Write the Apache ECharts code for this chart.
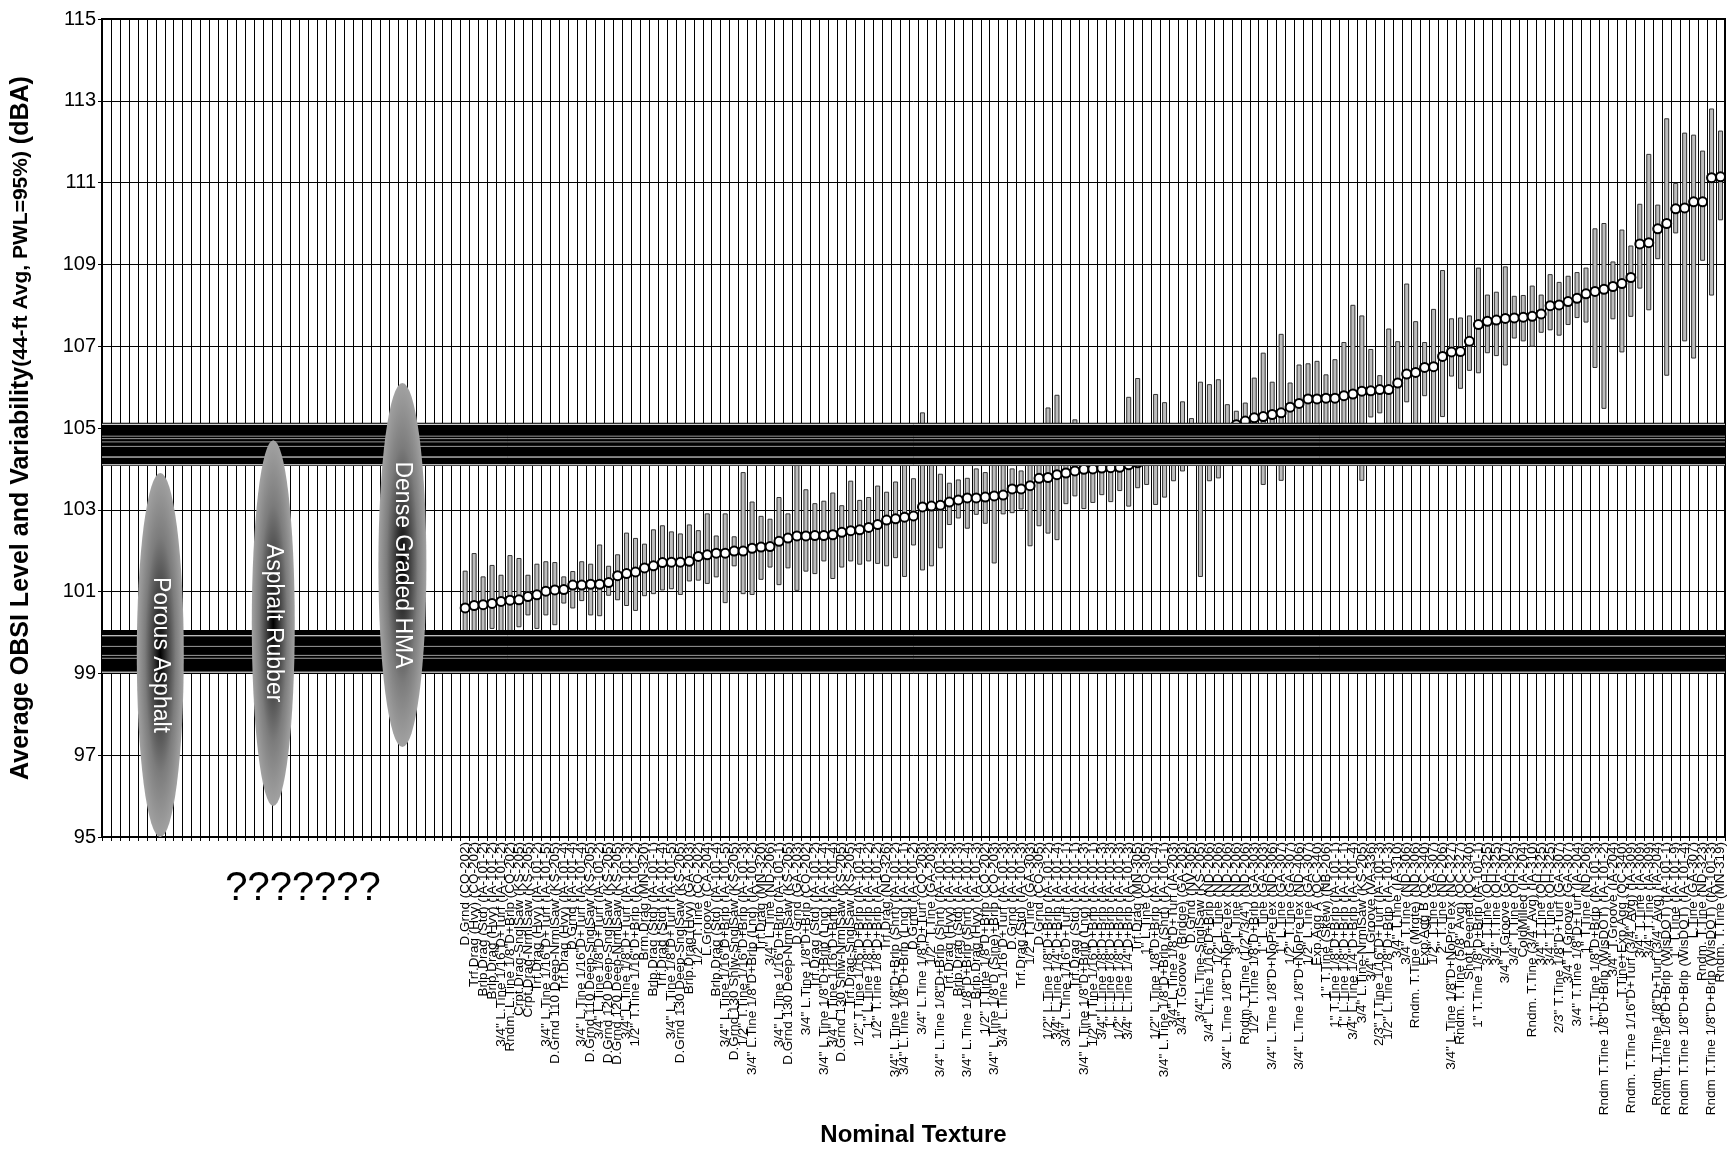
<!DOCTYPE html>
<html>
<head>
<meta charset="utf-8">
<title>Average OBSI Level and Variability</title>
<script src="https://cdn.jsdelivr.net/npm/echarts@6/dist/echarts.min.js"></script>
<style>
html, body { margin: 0; padding: 0; background: #fff; }
#main { width: 1729px; height: 1149px; }
</style>
</head>
<body>
<div id="main"></div>
<script>
var FONT = 'Liberation Sans, Arial, sans-serif';

// first categories of the axis are left blank (the "???????" group)
var emptyCount = 40;

// nominal texture of every measured section, in plotted order
var textures = [
    'D.Grnd (CO-202)', 'Trf.Drag (Hvy) (CO-202)', 'Brlp.Drag (Std) (IA-101-2)', 'Brlp.Drag (Hvy) (IA-101-2)',
    '3/4" L.Tine 1/16"D+Turf (IA-101-2)', 'Rndm. L.Tine 1/8"D+Brlp (CO-202)', 'Crpt.Drag-SnglSaw (KS-205)',
    'Crpt.Drag-NrmlSaw (KS-205)', 'Trf.Drag (Hvy) (IA-101-2)', '3/4" L.Tine 1/16"D+Turf (IA-101-5)',
    'D.Grnd 110 Deep-NrmlSaw (KS-205)', 'Trf.Drag (Hvy) (IA-101-4)', 'D.Grnd (IA-101-4)',
    '3/4" L.Tine 1/16"D+Turf (IA-101-4)', 'D.Grnd 110 Deep-SnglSaw (KS-205)', '3/4" L.Tine 1/8"D+Turf (IA-101-2)',
    'D.Grnd 120 Deep-SnglSaw (KS-205)', 'D.Grnd 120 Deep-NrmlSaw (KS-205)', '3/4" L.Tine 1/8"D+Turf (IA-101-3)',
    '1/2" T.Tine 1/16"D+Brlp (IA-101-2)', 'Brm.Drag (MN-320)', 'Brlp.Drag (Std) (IA-101-1)',
    'Trf.Drag (Std) (IA-101-4)', '3/4" L.Tine 1/8"D+Turf (IA-101-5)', 'D.Grnd 130 Deep-SnglSaw (KS-205)',
    'Brlp.Drag (Hvy) (GA-203)', '1/2" T.Tine (CO-202)', 'L.Groove (CA-204)', 'Brlp.Drag (Std) (IA-101-4)',
    '3/4" L.Tine 1/16"D+Brlp (IA-101-5)', 'D.Grnd 130 Shlw-SnglSaw (KS-205)', '1/2" T.Tine 1/16"D+Brlp (IA-101-3)',
    '3/4" L.Tine 1/8"D+Brlp (Lng) (IA-101-2)', 'Trf.Drag (MN-320)', '3/4" L.Tine (ND-206)',

    '3/4" L.Tine 1/16"D+Brlp (IA-101-1)', 'D.Grnd 130 Deep-NrmlSaw (KS-205)', 'D.Grnd (GA-203)',
    '3/4" L.Tine 1/8"D+Brlp (CO-202)', 'Trf.Drag (Std) (IA-101-2)', '3/4" L.Tine 1/8"D+Brlp (Lng) (IA-101-4)',
    '3/4" L.Tine 1/16"D+Brlp (IA-101-4)', 'D.Grnd 130 Shlw-NrmlSaw (KS-205)', 'Trf.Drag-SnglSaw (KS-205)',
    '1/2" T.Tine 1/16"D+Brlp (IA-101-4)', '1" L.Tine 1/8"D+Brlp (IA-101-2)', '1/2" T.Tine 1/8"D+Brlp (IA-101-2)',
    'Trf.Drag (ND-326)', '3/4" L.Tine 1/8"D+Brlp (Shrt) (IA-101-2)', '3/4" L.Tine 1/8"D+Brlp (Lng) (IA-101-1)',
    'D.Grnd (IA-101-2)', '3/4" L.Tine 1/8"D+Turf (CO-203)', '1/2" T.Tine (GA-203)',
    '3/4" L.Tine 1/8"D+Brlp (Shrt) (IA-101-3)', 'Trf.Drag (Hvy) (IA-101-3)', 'Brlp.Drag (Std) (IA-101-3)',
    '3/4" L.Tine 1/8"D+Brlp (Shrt) (IA-101-4)', 'Brlp.Drag (Hvy) (IA-101-3)', '1/2" T.Tine 1/8"D+Brlp (CO-202)',
    '3/4" L.Tine 1/8"D (Sine)+Brlp (CO-203)', '3/4" L.Tine 1/16"D+Turf (IA-101-3)', 'D.Grnd (IA-101-3)',
    'Trf.Drag (Std) (IA-101-3)', '1/2" T.Tine (GA-303)', 'D.Grnd (CO-305)', '1/2" L.Tine 1/8"D+Brlp (IA-101-2)',
    '3/4" L.Tine 1/4"D+Brlp (IA-101-4)', '3/4" L.Tine 1/16"D+Turf (IA-101-1)', 'Trf.Drag (Std) (IA-101-1)',
    '3/4" L.Tine 1/8"D+Brlp (Lng) (IA-101-3)',

    '1/2" T.Tine 1/16"D+Brlp (IA-101-1)', '3/4" L.Tine 1/8"D+Brlp (IA-101-3)', '1" L.Tine 1/8"D+Brlp (IA-101-3)',
    '1/2" L.Tine 1/8"D+Brlp (IA-101-3)', '3/4" L.Tine 1/4"D+Brlp (IA-101-3)', 'Trf.Drag (MN-305)',
    '1" L.Tine (CO-305)', '1/2" L.Tine 1/8"D+Brlp (IA-101-4)', '3/4" L.Tine 1/8"D+Brlp (Shrt) (IA-101-1)',
    '3/4" L.Tine 1/8"D+Turf (IA-203)', '3/4" T.Groove (Bridge) (GA-203)', 'D.Grnd (NV-305)',
    '3/4" L.Tine-SnglSaw (KS-205)', '3/4" L.Tine 1/16"D+Brlp (ND-206)', '1/2" L.Tine (ND-206)',
    '3/4" L.Tine 1/8"D+NoPreTex (ND-206)', '3" L.Tine (ND-206)', 'Rndm. T.Tine (1/2"/3/4") (ND-206)',
    '1/2" T.Tine 1/8"D+Brlp (GA-303)', '1" L.Tine (GA-203)', '3/4" L.Tine 1/8"D+NoPreTex (ND-306)',
    '1" L.Tine (GA-307)', '1/2" T.Tine (GA-307)', '3/4" L.Tine 1/8"D+NoPreTex (ND-406)', '1/2" L.Tine (GA-307)',
    'Exp.Agg A (QC-340)', '1" T.Tine (Skew) (NB-206)', '1" T.Tine 1/8"D+Brlp (IA-101-1)',
    '1" L.Tine 1/8"D+Brlp (IA-101-1)', '3/4" L.Tine 1/4"D+Brlp (IA-101-4)', '3/4" L.Tine-NrmlSaw (KS-205)',
    '3/4" L.Groove (VA-336)', '2/3" T.Tine 1/16"D+Turf (IA-101-3)', '1/2" L.Tine 1/8"D+Brlp (IA-101-3)',
    '3/4" T.Tine (IA-310)',

    '3/4" T.Tine (ND-306)', 'Rndm. T.Tine (Mrgte) (ND-306)', 'Exp.Agg B (QC-340)', '1/2" T.Tine (GA-307)',
    '2" T.Tine (ND-206)', '3/4" L.Tine 1/8"D+NoPreTex (NC-327)', 'Rndm. T.Tine (5/8" Avg) (OC-327)',
    'Shot Peened (QC-340)', '1" T.Tine 1/8"D+Brlp (IA-101-1)', '3/4" T.Tine (OH-325)', '3/4" T.Tine (OH-325)',
    '3/4" T.Groove (GA-307)', '3/4" T.Tine (OH-325)', 'ColdMilled (IA-204)', 'Rndm. T.Tine (3/4" Avg) (IA-310)',
    '3/4" T.Tine (OH-325)', '3/4" T.Tine (OH-325)', '2/3" T.Tine 1/8"D+Turf (GA-307)', '3/4" T.Groove (GA-307)',
    '3/4" T.Tine 1/8"D+Turf (IA-204)', '1" T.Tine (ND-206)', '1" T.Tine 1/8"D+Brlp (IA-101-3)',
    'Rndm T.Tine 1/8"D+Brlp (WisDOT) (IA-101-2)', '3/4" T.Groove (IA-204)', 'T.Tine+Exp.Agg (QC-340)',
    'Rndm. T.Tine 1/16"D+Turf (3/4" Avg) (IA-309)', '3/4" T.Tine (IA-309)', '3/4" T.Tine (IA-309)',
    'Rndm. T.Tine 1/8"D+Turf (3/4" Avg) (IA-204)', 'Rndm T.Tine 1/8"D+Brlp (WisDOT) (IA-101-1)',
    '1" T.Tine (IA-101-9)', 'Rndm T.Tine 1/8"D+Brlp (WisDOT) (IA-101-4)', 'L.Tine (GA-307)',
    'Rndm. T.Tine (ND-323)', 'Rndm T.Tine 1/8"D+Brlp (WisDOT) (IA-101-3)', 'Rndm. T.Tine (MN-319)'
];

// average OBSI level (dBA)
var means = [
    100.60, 100.66, 100.68, 100.71, 100.76, 100.79, 100.80, 100.88, 100.92, 101.01,
    101.04, 101.05, 101.16, 101.16, 101.18, 101.18, 101.22, 101.39, 101.44, 101.48,
    101.58, 101.63, 101.71, 101.72, 101.72, 101.74, 101.86, 101.90, 101.94, 101.94,
    101.99, 101.99, 102.06, 102.09, 102.10, 102.23, 102.31, 102.36, 102.36, 102.37,
    102.37, 102.39, 102.45, 102.49, 102.51, 102.57, 102.64, 102.75, 102.78, 102.82,
    102.85, 103.07, 103.09, 103.11, 103.19, 103.24, 103.29, 103.29, 103.31, 103.34,
    103.36, 103.51, 103.51, 103.59, 103.77, 103.79, 103.86, 103.90, 103.95, 103.99,
    104.00, 104.02, 104.03, 104.04, 104.10, 104.15, 104.22, 104.30, 104.38, 104.45,
    104.52, 104.60, 104.68, 104.78, 104.88, 104.98, 105.08, 105.17, 105.25, 105.28,
    105.33, 105.37, 105.51, 105.60, 105.71, 105.71, 105.73, 105.73, 105.79, 105.83,
    105.90, 105.91, 105.94, 105.94, 106.10, 106.32, 106.36, 106.48, 106.50, 106.75,
    106.86, 106.87, 107.12, 107.53, 107.61, 107.64, 107.68, 107.69, 107.71, 107.73,
    107.79, 107.99, 108.01, 108.09, 108.17, 108.28, 108.34, 108.39, 108.46, 108.53,
    108.68, 109.50, 109.53, 109.87, 110.00, 110.36, 110.38, 110.53, 110.53, 111.12, 111.14
];

// variability range, low end (dBA)
var lows = [
    99.70, 99.40, 99.90, 100.10, 99.80, 99.60, 100.14, 100.43, 100.10, 100.43,
    100.19, 100.72, 100.60, 100.78, 100.43, 100.41, 100.91, 100.80, 100.66, 100.54,
    100.90, 100.95, 101.04, 101.07, 100.93, 101.26, 101.28, 101.20, 101.36, 100.73,
    101.63, 100.95, 100.93, 101.30, 101.60, 101.17, 101.58, 101.03, 101.50, 101.44,
    101.75, 101.32, 101.60, 101.75, 101.67, 101.75, 101.69, 101.63, 101.83, 101.37,
    102.14, 101.53, 101.63, 102.07, 102.64, 102.80, 102.55, 102.89, 102.67, 101.70,
    102.90, 102.93, 103.02, 102.12, 102.61, 102.43, 102.27, 103.15, 103.34, 103.03,
    103.18, 103.37, 103.20, 103.47, 103.09, 103.54, 103.62, 103.13, 103.31, 103.71,
    103.95, 104.30, 101.37, 103.71, 103.78, 104.40, 104.50, 104.60, 104.60, 103.62,
    104.70, 103.72, 104.80, 104.90, 104.90, 104.80, 105.00, 104.90, 104.70, 104.50,
    103.72, 105.27, 105.37, 104.80, 104.90, 105.64, 105.00, 105.79, 105.00, 105.28,
    106.27, 105.97, 106.41, 106.35, 106.84, 106.77, 106.54, 107.20, 107.13, 107.00,
    107.34, 107.40, 107.27, 107.53, 107.70, 107.59, 106.48, 105.48, 107.67, 106.86,
    107.73, 108.42, 107.89, 109.14, 106.29, 109.77, 107.13, 106.71, 109.10, 108.25, 110.09
];

// variability range, high end (dBA)
var highs = [
    101.50, 101.93, 101.36, 101.64, 101.40, 101.88, 101.81, 101.40, 101.67, 101.73,
    101.71, 101.36, 101.49, 101.73, 101.67, 102.14, 101.62, 101.90, 102.43, 102.30,
    102.16, 102.51, 102.61, 102.46, 102.41, 102.63, 102.49, 102.90, 102.36, 102.90,
    102.34, 103.91, 103.19, 102.84, 102.77, 103.30, 102.90, 104.40, 103.49, 103.15,
    103.21, 103.41, 103.10, 103.70, 103.23, 103.30, 103.58, 103.43, 103.68, 104.50,
    103.76, 105.37, 104.60, 103.87, 103.65, 103.73, 103.77, 104.00, 103.91, 104.40,
    104.30, 104.00, 103.95, 104.50, 104.60, 105.49, 105.80, 104.70, 105.20, 104.60,
    104.80, 104.60, 104.90, 104.70, 105.75, 106.21, 104.90, 105.82, 105.62, 104.90,
    105.64, 105.23, 106.12, 106.06, 106.18, 105.57, 105.41, 105.61, 106.22, 106.83,
    106.12, 107.29, 106.10, 106.54, 106.57, 106.63, 106.30, 106.67, 107.09, 108.00,
    107.74, 106.92, 106.28, 107.42, 107.11, 108.52, 107.60, 107.09, 107.90, 108.85,
    107.67, 107.69, 107.74, 108.91, 108.25, 108.32, 108.94, 108.22, 108.24, 108.47,
    108.25, 108.75, 108.56, 108.71, 108.80, 108.91, 109.87, 110.00, 109.06, 109.84,
    109.45, 110.47, 111.69, 110.45, 112.56, 110.98, 112.21, 112.16, 111.77, 112.80, 112.26
];

// pavement groups marked on the left part of the axis
var groupNames = ['Porous Asphalt', 'Asphalt Rubber', 'Dense Graded HMA'];
var groupCategory = [6, 18.6, 33];
var groupLow = [95.0, 95.76, 97.2];
var groupHigh = [103.9, 104.7, 106.1];

// black bands across the plot (dBA) and the thin lines inside them
var bands = [[99.0, 100.06], [104.07, 105.13]];
var bandLightLines = [105.09, 104.29, 104.10, 99.92, 99.03];
var bandGreyLines = [104.80, 104.74, 104.66, 104.55, 99.66, 99.44, 99.37];

var categories = [];
for (var i = 0; i < emptyCount; i++) {
    categories.push('');
}
categories = categories.concat(textures);

var rangeData = [];
var meanData = [];
for (var j = 0; j < textures.length; j++) {
    rangeData.push([emptyCount + j, lows[j], highs[j]]);
    meanData.push([emptyCount + j, means[j]]);
}

var myChart = echarts.init(document.getElementById('main'));

// x position of a (possibly fractional) category index
function categoryX(api, c, v) {
    var c0 = Math.floor(c);
    var p0 = api.coord([c0, v]);
    var p1 = api.coord([c0 + 1, v]);
    return p0[0] + (c - c0) * (p1[0] - p0[0]);
}

var groupWidths = [47, 43, 48];

function bandLineSeries(values, color) {
    return {
        type: 'custom',
        silent: true,
        z: 5,
        data: values.map(function (v) { return [0, v]; }),
        encode: { x: 0, y: 1 },
        renderItem: function (params, api) {
            var cs = params.coordSys;
            var y = api.coord([0, api.value(1)])[1];
            return {
                type: 'line',
                shape: { x1: cs.x, y1: y, x2: cs.x + cs.width, y2: y },
                style: { stroke: color, lineWidth: 1 }
            };
        }
    };
}

var option = {
    animation: false,
    backgroundColor: '#fff',
    textStyle: { fontFamily: FONT },
    grid: {
        left: 102, right: 4, top: 19, bottom: 312,
        outerBoundsMode: 'none',
        containLabel: false,
        show: true, borderColor: '#000', borderWidth: 2
    },
    xAxis: {
        type: 'category',
        data: categories,
        boundaryGap: true,
        axisLine: { lineStyle: { color: '#000', width: 2 } },
        axisTick: { show: true, interval: 0, length: 4, lineStyle: { color: '#000' } },
        axisLabel: {
            interval: 0, rotate: 90, margin: 5,
            fontFamily: FONT, fontSize: 13.5, color: '#000'
        },
        splitLine: { show: true, interval: 0, lineStyle: { color: '#000', width: 1 } },
        name: 'Nominal Texture',
        nameLocation: 'middle',
        nameGap: 266,
        nameTextStyle: { fontFamily: FONT, fontWeight: 'bold', fontSize: 24, color: '#000' }
    },
    yAxis: {
        type: 'value',
        min: 95, max: 115, interval: 2,
        axisLine: { show: true, lineStyle: { color: '#000', width: 2 } },
        axisTick: { show: true, length: 4, lineStyle: { color: '#000' } },
        axisLabel: { fontFamily: FONT, fontSize: 20, color: '#000', margin: 6 },
        splitLine: { show: true, lineStyle: { color: '#000', width: 1 } },
        name: '{a|Average OBSI Level and Variability}{b|(44-ft Avg, PWL=95%)}{a| (dBA)}',
        nameLocation: 'middle',
        nameRotate: 90,
        nameGap: 68,
        nameTextStyle: {
            rich: {
                a: { fontFamily: FONT, fontWeight: 'bold', fontSize: 25, color: '#000' },
                b: { fontFamily: FONT, fontWeight: 'bold', fontSize: 21, color: '#000' }
            }
        }
    },
    graphic: [{
        type: 'text',
        x: 303, y: 889,
        style: {
            text: '???????', fontFamily: FONT, fontSize: 40, fill: '#000',
            align: 'center', verticalAlign: 'middle'
        }
    }],
    series: [
        {
            // variability range bars
            type: 'custom',
            silent: true,
            z: 2,
            data: rangeData,
            encode: { x: 0, y: [1, 2] },
            renderItem: function (params, api) {
                var top = api.coord([api.value(0), api.value(2)]);
                var bot = api.coord([api.value(0), api.value(1)]);
                return {
                    type: 'rect',
                    shape: { x: top[0] - 2, y: top[1], width: 4, height: bot[1] - top[1] },
                    style: { fill: '#bdbdbd', stroke: '#333', lineWidth: 1 }
                };
            }
        },
        {
            // average level
            type: 'scatter',
            silent: true,
            z: 3,
            data: meanData,
            symbol: 'circle',
            symbolSize: 9,
            itemStyle: { color: '#fff', borderColor: '#000', borderWidth: 2, opacity: 1 }
        },
        {
            // black bands
            type: 'custom',
            silent: true,
            z: 4,
            data: bands.map(function (b) { return [0, b[0], b[1]]; }),
            encode: { x: 0, y: [1, 2] },
            renderItem: function (params, api) {
                var cs = params.coordSys;
                var yHi = api.coord([0, api.value(2)])[1];
                var yLo = api.coord([0, api.value(1)])[1];
                return {
                    type: 'rect',
                    shape: { x: cs.x - 1, y: yHi, width: cs.width + 1, height: yLo - yHi },
                    style: { fill: '#000' }
                };
            }
        },
        bandLineSeries(bandLightLines, '#ffffff'),
        bandLineSeries(bandGreyLines, '#9a9a9a'),
        {
            // pavement group ellipses
            type: 'custom',
            silent: true,
            z: 6,
            data: groupNames.map(function (n, k) { return [Math.round(groupCategory[k]), groupLow[k], groupHigh[k]]; }),
            encode: { x: 0, y: [1, 2] },
            renderItem: function (params, api) {
                var k = params.dataIndex;
                var cx = categoryX(api, groupCategory[k], groupLow[k]);
                var yTop = api.coord([0, groupHigh[k]])[1];
                var yBot = api.coord([0, groupLow[k]])[1];
                var w = groupWidths[k];
                var h = yBot - yTop;
                var cy = (yTop + yBot) / 2;
                return {
                    type: 'group',
                    children: [{
                        type: 'circle',
                        x: cx, y: cy,
                        scaleY: h / w,
                        shape: { cx: 0, cy: 0, r: w / 2 },
                        style: {
                            fill: new echarts.graphic.RadialGradient(0.5, 0.5, 0.5, [
                                { offset: 0, color: '#000000' },
                                { offset: 0.3, color: '#3c3c3c' },
                                { offset: 0.65, color: '#7c7c7c' },
                                { offset: 1, color: '#a2a2a2' }
                            ])
                        }
                    }, {
                        type: 'text',
                        x: cx, y: cy,
                        rotation: -Math.PI / 2,
                        style: {
                            text: groupNames[k], fontFamily: FONT, fontSize: 23, fill: '#fff',
                            align: 'center', verticalAlign: 'middle'
                        }
                    }]
                };
            }
        }
    ]
};

myChart.setOption(option);
</script>
</body>
</html>
